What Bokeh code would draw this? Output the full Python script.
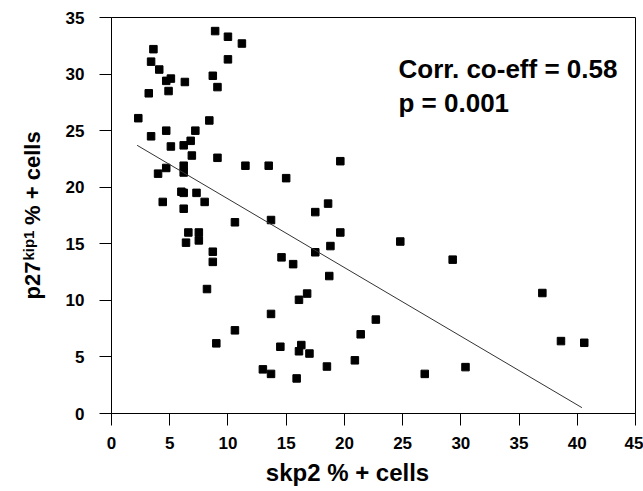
from bokeh.plotting import figure
from bokeh.models import Range1d, FixedTicker, Label
from bokeh.embed import file_html
from bokeh.resources import INLINE

# ---- data ----
skp2 = [8.9, 10.0, 11.2, 3.6, 10.0, 3.4, 4.1, 5.1, 4.7, 6.3, 8.7, 9.1, 4.9, 3.2,
        2.3, 8.4, 4.7, 7.2, 3.4, 6.8, 6.2, 5.1, 6.9, 9.1, 11.5, 13.5, 4.7, 6.2,
        6.2, 4.0, 6.0, 6.2, 7.3, 4.4, 8.0, 6.2, 10.6, 13.7, 6.6, 7.5, 6.4, 7.5,
        8.7, 8.7, 14.6, 8.2, 13.7, 10.6, 9.0, 14.5, 13.0, 13.7, 19.65, 15.0,
        18.6, 17.5, 19.65, 18.8, 24.8, 29.3, 17.5, 15.6, 18.7, 16.8, 16.1, 22.7,
        21.4, 16.3, 16.1, 17.0, 20.9, 18.5, 15.9, 26.9, 37.0, 38.6, 40.6, 30.4]
p27 = [33.8, 33.3, 32.7, 32.2, 31.3, 31.1, 30.4, 29.6, 29.4, 29.3, 29.85, 28.85,
       28.5, 28.3, 26.1, 25.9, 25.0, 25.0, 24.5, 24.1, 23.7, 23.6, 22.8, 22.6,
       21.9, 21.9, 21.7, 21.9, 21.3, 21.2, 19.6, 19.5, 19.5, 18.7, 18.7, 18.1,
       16.9, 17.1, 16.0, 16.0, 15.1, 15.3, 14.3, 13.4, 13.8, 11.0, 8.8, 7.35,
       6.2, 5.9, 3.9, 3.5, 22.3, 20.8, 18.55, 17.8, 16.0, 14.8, 15.2, 13.6,
       14.25, 13.2, 12.15, 10.6, 10.05, 8.3, 7.0, 6.05, 5.5, 5.3, 4.7, 4.15,
       3.1, 3.5, 10.65, 6.4, 6.25, 4.1]

fit_intercept = 25.04
fit_slope = -0.607
fit_x = [2.2, 40.4]

x_ticks = [0, 5, 10, 15, 20, 25, 30, 35, 40, 45]
y_ticks = [0, 5, 10, 15, 20, 25, 30, 35]

x_title = "skp2 % + cells"
y_title_main = "p27"
y_title_sup = "kip1"
y_title_rest = "% + cells"
stat_lines = ["Corr. co-eff = 0.58", "p = 0.001"]

FONT = "Liberation Sans"

W, H = 643, 491
BL, BR, BT, BB = 111, 8, 17, 78
XMAX, YMAX = 45, 35
px_x = (W - BL - BR) / XMAX   # pixels per x unit
px_y = (H - BT - BB) / YMAX   # pixels per y unit

p = figure(width=W, height=H, output_backend="svg", toolbar_location=None,
           x_range=Range1d(0, XMAX), y_range=Range1d(0, YMAX),
           min_border_left=BL, min_border_right=BR, min_border_top=BT,
           min_border_bottom=BB)
p.xgrid.visible = False
p.ygrid.visible = False
p.outline_line_color = "black"
p.outline_line_width = 1
p.background_fill_color = "white"
p.border_fill_color = "white"

p.scatter(skp2, p27, marker="square", size=7.5, color="black")
fit_y = [fit_intercept + fit_slope * v for v in fit_x]
p.line(fit_x, fit_y, line_color="#333333", line_width=1)

for ax, ticks in ((p.xaxis[0], x_ticks), (p.yaxis[0], y_ticks)):
    ax.ticker = FixedTicker(ticks=ticks)
    ax.axis_line_color = "black"
    ax.axis_line_width = 1
    ax.major_tick_in = 0
    ax.major_tick_out = 12
    ax.major_tick_line_color = "black"
    ax.minor_tick_line_color = None
    ax.major_label_text_font = FONT
    ax.major_label_text_font_style = "bold"
    ax.major_label_text_font_size = "17px"
    ax.major_label_text_color = "black"

p.xaxis.major_label_standoff = 11
p.yaxis.major_label_standoff = 15

# x title (placed as a label below the axis, slightly left of centre as in the source)
title_base_px = 472 - (H - BB)   # px below the frame bottom
p.add_layout(Label(x=(347 - BL) / px_x, y=-title_base_px / px_y, text=x_title,
                   text_align="center", text_baseline="alphabetic", text_font=FONT,
                   text_font_style="bold", text_font_size="24px", text_color="black"),
             "below")

# y title: main text (with a gap kept by no-break spaces) + smaller raised "kip1"
big = 22
small = 15
w_main = (0.611 + 0.556 + 0.556) * big
gap = "\u00a0" * 6
base_px = 32 - BL          # baseline x (px, relative to frame left)
start_px = 114             # text start (px above frame bottom)
ang = 1.5707963
common = dict(angle=ang, text_align="left", text_baseline="alphabetic",
              text_font=FONT, text_font_style="bold", text_color="black")
p.add_layout(Label(x=base_px / px_x, y=start_px / px_y,
                   text=y_title_main + gap + y_title_rest,
                   text_font_size=f"{big}px", **common), "left")
p.add_layout(Label(x=(base_px - 4) / px_x, y=(start_px + w_main + 1) / px_y,
                   text=y_title_sup, text_font_size=f"{small}px", **common), "left")

# statistics text
stat_x = (398 - BL) / px_x
p.add_layout(Label(x=stat_x, y=(H - BB - 68) / px_y, text=stat_lines[0],
                   text_align="left", text_baseline="alphabetic", text_font=FONT,
                   text_font_style="bold", text_font_size="26px", text_color="black"))
p.add_layout(Label(x=stat_x, y=(H - BB - 102) / px_y, text=stat_lines[1],
                   text_align="left", text_baseline="alphabetic", text_font=FONT,
                   text_font_style="bold", text_font_size="26px", text_color="black"))

open("out.html", "w").write(file_html(p, INLINE))
